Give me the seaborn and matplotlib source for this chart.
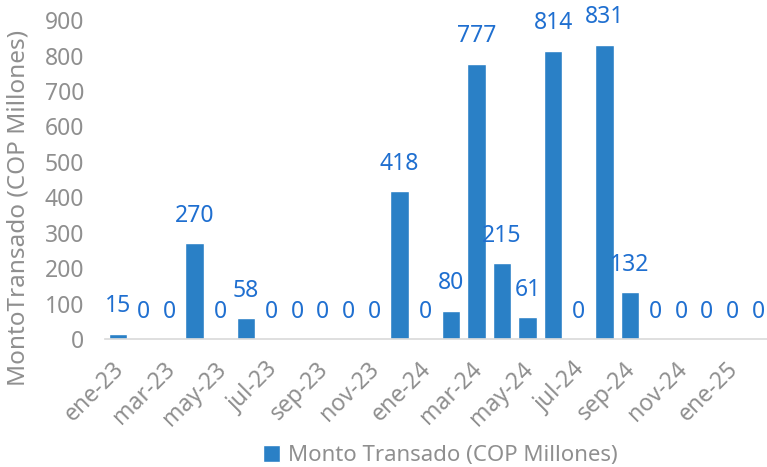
import numpy as np
import pandas as pd
import seaborn as sns
import matplotlib.pyplot as plt
import matplotlib.transforms as mtransforms

# monthly amounts, ene-23 .. feb-25
months = ["ene-23", "feb-23", "mar-23", "abr-23", "may-23", "jun-23", "jul-23",
          "ago-23", "sep-23", "oct-23", "nov-23", "dic-23", "ene-24", "feb-24",
          "mar-24", "abr-24", "may-24", "jun-24", "jul-24", "ago-24", "sep-24",
          "oct-24", "nov-24", "dic-24", "ene-25", "feb-25"]
values = [15, 0, 0, 270, 0, 58, 0, 0, 0, 0, 0, 418, 0, 80, 777, 215, 61, 814,
          0, 831, 132, 0, 0, 0, 0, 0]
tick_labels = months[::2]

BAR = "#2a80c6"
LBL = "#1f6fd0"
GRAY = "#8f8f8f"
FS = 16.5

sns.set_style("white")
plt.rcParams["font.family"] = ["Noto Sans", "DejaVu Sans"]

df = pd.DataFrame({"mes": months, "monto": values})

fig = plt.figure(figsize=(7.67, 4.67), dpi=100)
ax = fig.add_axes([0.137, 0.274, 0.868, 0.683])

sns.barplot(data=df, x="mes", y="monto", order=months, color=BAR, width=0.72,
            saturation=1, ax=ax, label="Monto Transado (COP Millones)")

ax.bar_label(ax.containers[0], labels=[str(v) for v in values], padding=11,
             color=LBL, fontsize=FS)

ax.set_xlim(-0.5, len(months) - 0.5)
ax.set_ylim(0, 900)
ax.set_yticks(range(0, 901, 100))
ax.tick_params(axis="y", length=0, labelsize=FS, labelcolor=GRAY, pad=15)

# ticks at the category boundaries, every two months
ax.set_xticks(np.arange(-0.5, len(months) - 0.5, 2))
ax.set_xticklabels(tick_labels, rotation=45, ha="right", va="center",
                   rotation_mode="anchor", fontsize=FS, color=GRAY)
ax.tick_params(axis="x", length=6, width=1, color="#d9d9d9", pad=2)
offset = mtransforms.ScaledTranslation(0.15, -0.16, fig.dpi_scale_trans)
for lab in ax.get_xticklabels():
    lab.set_transform(lab.get_transform() + offset)

for side in ["left", "right", "top"]:
    ax.spines[side].set_visible(False)
ax.spines["bottom"].set_color("#d9d9d9")
ax.spines["bottom"].set_linewidth(1.2)

ax.set_xlabel("")
ax.set_ylabel("MontoTransado (COP Millones)", fontsize=17.5, color=GRAY)
ax.yaxis.set_label_coords(-0.112, 0.41)

if ax.get_legend() is not None:
    ax.get_legend().remove()
handles, labels = ax.get_legend_handles_labels()
fig.legend(handles, labels, loc="center", bbox_to_anchor=(0.574, 0.024),
           frameon=False, fontsize=16, labelcolor=GRAY, handlelength=0.75,
           handleheight=0.75, handletextpad=0.35, borderpad=0)

fig.savefig("out.png", dpi=100)
